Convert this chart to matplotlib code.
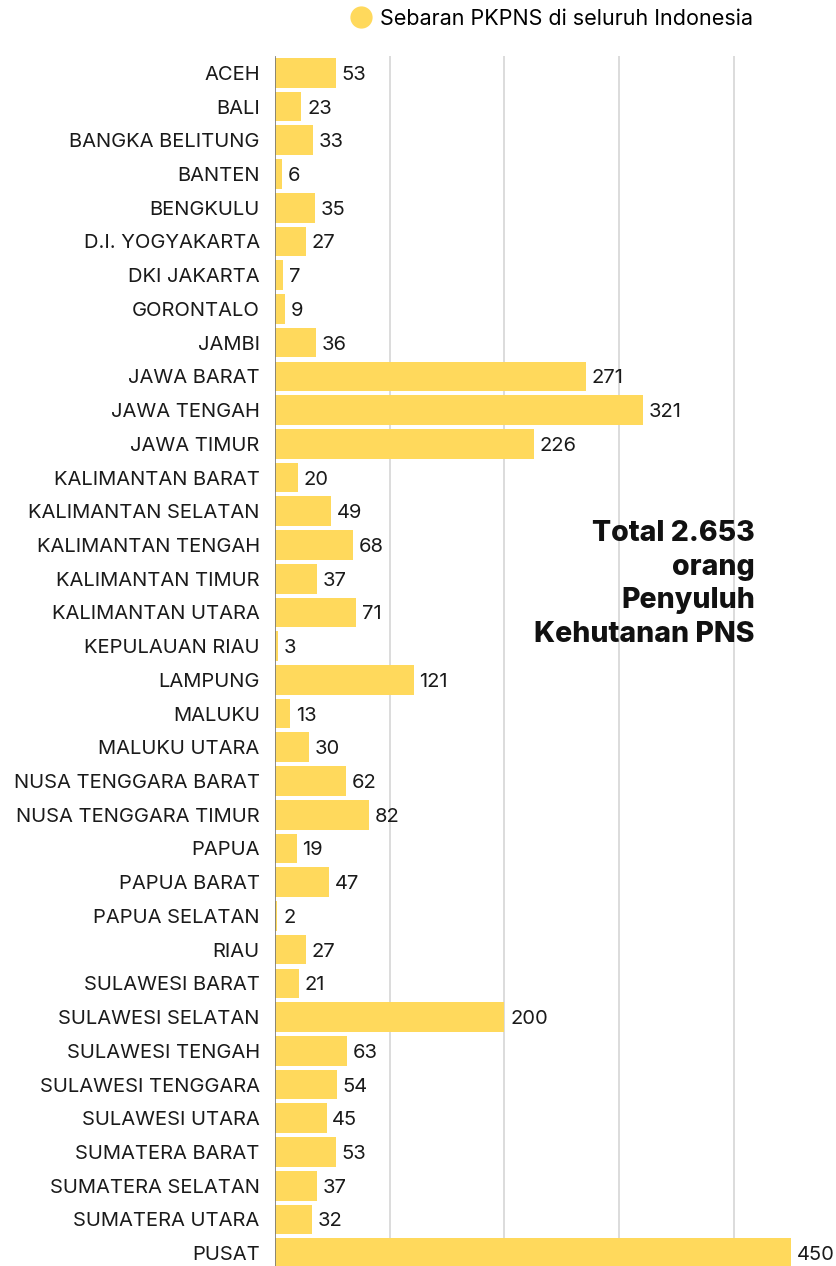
import matplotlib
matplotlib.use("Agg")
import matplotlib.pyplot as plt
from matplotlib.lines import Line2D

provinces = ["ACEH", "BALI", "BANGKA BELITUNG", "BANTEN", "BENGKULU", "D.I. YOGYAKARTA",
             "DKI JAKARTA", "GORONTALO", "JAMBI", "JAWA BARAT", "JAWA TENGAH", "JAWA TIMUR",
             "KALIMANTAN BARAT", "KALIMANTAN SELATAN", "KALIMANTAN TENGAH", "KALIMANTAN TIMUR",
             "KALIMANTAN UTARA", "KEPULAUAN RIAU", "LAMPUNG", "MALUKU", "MALUKU UTARA",
             "NUSA TENGGARA BARAT", "NUSA TENGGARA TIMUR", "PAPUA", "PAPUA BARAT",
             "PAPUA SELATAN", "RIAU", "SULAWESI BARAT", "SULAWESI SELATAN", "SULAWESI TENGAH",
             "SULAWESI TENGGARA", "SULAWESI UTARA", "SUMATERA BARAT", "SUMATERA SELATAN",
             "SUMATERA UTARA", "PUSAT"]
values = [53, 23, 33, 6, 35, 27, 7, 9, 36, 271, 321, 226, 20, 49, 68, 37, 71, 3, 121, 13, 30,
          62, 82, 19, 47, 2, 27, 21, 200, 63, 54, 45, 53, 37, 32, 450]
legend_label = "Sebaran PKPNS di seluruh Indonesia"
total_lines = "Total 2.653\norang\nPenyuluh\nKehutanan PNS"

BAR = "#FFD95C"
TXT = "#1a1a1a"
plt.rcParams['font.family'] = ['Inter', 'DejaVu Sans']

W, H = 837, 1266
fig = plt.figure(figsize=(W / 100, H / 100), dpi=100)
left, right = 275, 800
top_px, bot_px = 56, 1270
ax = fig.add_axes([left / W, (H - bot_px) / H, (right - left) / W, (bot_px - top_px) / H])

n = len(provinces)
ypos = list(range(n))
ax.barh(ypos, values, height=0.88, color=BAR, zorder=2)
ax.set_ylim(n - 0.5, -0.5)
ax.set_xlim(0, (right - left) / 1.147)
ax.set_xticks([100, 200, 300, 400])
ax.xaxis.grid(True, color="#d6d6d6", linewidth=1.2, zorder=0)
ax.tick_params(axis="x", length=0, labelbottom=False)
ax.set_yticks(ypos)
ax.set_yticklabels(provinces, fontsize=14.5, color=TXT)
ax.tick_params(axis="y", length=0, pad=11)
for s in ["top", "right", "bottom"]:
    ax.spines[s].set_visible(False)
ax.spines["left"].set_color("#777777")
ax.spines["left"].set_linewidth(0.6)

for y, v in zip(ypos, values):
    ax.text(v + 5, y + 0.06, str(v), va="center", ha="left", fontsize=14.5, color=TXT, clip_on=False)

ax.text(755 / W, (H - 584) / H, total_lines, transform=fig.transFigure, ha="right", va="center",
        fontsize=20.5, fontweight="heavy", color="#111111", linespacing=1.33)

handle = Line2D([0], [0], marker="o", color="none", markerfacecolor=BAR, markeredgecolor=BAR,
                markersize=15)
fig.legend([handle], [legend_label], loc="center left", bbox_to_anchor=(337 / W, (H - 19) / H),
           frameon=False, fontsize=15.5, handletextpad=0.3, handlelength=1.2, borderpad=0)

fig.savefig("out.png", dpi=100)
